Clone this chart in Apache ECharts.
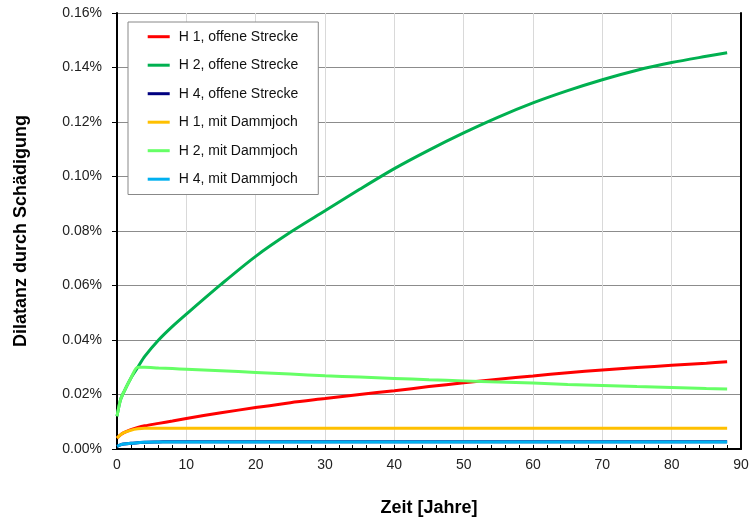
<!DOCTYPE html>
<html>
<head>
<meta charset="utf-8">
<script src="https://cdn.jsdelivr.net/npm/echarts@6/dist/echarts.min.js"></script>
<style>
  html, body { margin: 0; padding: 0; background: #fff; }
  #chart { width: 752px; height: 521px; }
</style>
</head>
<body>
<div id="chart"></div>
<script>
// Zeitpunkte in Jahren
var years = [0, 0.5, 1, 2, 3, 4, 6, 8, 10, 15, 20, 25, 30, 35, 40, 45, 50, 55, 60, 65, 70, 75, 80, 85, 88];

// Dilatanz in Prozent
var h1Offen = [0.0040, 0.0052, 0.0060, 0.0071, 0.0079, 0.0085, 0.0094, 0.0103, 0.0112, 0.0133, 0.0152, 0.0170, 0.0185, 0.0200, 0.0214, 0.0229, 0.0243, 0.0256, 0.0268, 0.0280, 0.0290, 0.0299, 0.0307, 0.0315, 0.0320];
var h2Offen = [0.0120, 0.0180, 0.0210, 0.0260, 0.0300, 0.0340, 0.0400, 0.0450, 0.0495, 0.0604, 0.0707, 0.0795, 0.0874, 0.0953, 0.1029, 0.1097, 0.1160, 0.1218, 0.1270, 0.1315, 0.1355, 0.1390, 0.1418, 0.1441, 0.1454];
var h4Offen = [0.0010, 0.0015, 0.0018, 0.0021, 0.0023, 0.0025, 0.0026, 0.0027, 0.0027, 0.0027, 0.0027, 0.0027, 0.0027, 0.0027, 0.0027, 0.0027, 0.0027, 0.0027, 0.0027, 0.0027, 0.0027, 0.0027, 0.0027, 0.0027, 0.0027];
var h1Damm = [0.0040, 0.0052, 0.0060, 0.0069, 0.0074, 0.0076, 0.0076, 0.0076, 0.0076, 0.0076, 0.0076, 0.0076, 0.0076, 0.0076, 0.0076, 0.0076, 0.0076, 0.0076, 0.0076, 0.0076, 0.0076, 0.0076, 0.0076, 0.0076, 0.0076];
var h2Damm = [0.0120, 0.0180, 0.0210, 0.0260, 0.0300, 0.0300, 0.0297, 0.0295, 0.0293, 0.0287, 0.0281, 0.0275, 0.0269, 0.0264, 0.0259, 0.0254, 0.0250, 0.0246, 0.0242, 0.0237, 0.0233, 0.0229, 0.0226, 0.0222, 0.0220];
var h4Damm = [0.0010, 0.0015, 0.0018, 0.0021, 0.0023, 0.0025, 0.0026, 0.0026, 0.0026, 0.0026, 0.0026, 0.0026, 0.0026, 0.0026, 0.0026, 0.0026, 0.0026, 0.0026, 0.0026, 0.0026, 0.0026, 0.0026, 0.0026, 0.0026, 0.0026];

var seriesNames = ['H 1, offene Strecke', 'H 2, offene Strecke', 'H 4, offene Strecke',
                   'H 1, mit Dammjoch', 'H 2, mit Dammjoch', 'H 4, mit Dammjoch'];
var seriesValues = [h1Offen, h2Offen, h4Offen, h1Damm, h2Damm, h4Damm];
var seriesColors = ['#ff0000', '#00b050', '#000080', '#ffc000', '#66ff66', '#00b0f0'];

var FONT = 'Liberation Sans, Arial, sans-serif';

function pairs(vals) {
  return years.map(function (t, i) { return [t, vals[i]]; });
}

var chart = echarts.init(document.getElementById('chart'), null, { renderer: 'canvas' });

chart.setOption({
  animation: false,
  backgroundColor: '#ffffff',
  textStyle: { fontFamily: FONT },
  grid: { left: 117, right: 11, top: 13, bottom: 72, containLabel: false, outerBoundsMode: 'none' },
  legend: {
    orient: 'vertical',
    left: 128,
    top: 22,
    icon: 'rect',
    itemWidth: 22,
    itemHeight: 3,
    itemGap: 12.5,
    padding: [6.7, 20, 7.3, 19.7],
    backgroundColor: '#ffffff',
    borderColor: '#888888',
    borderWidth: 1,
    borderRadius: 0,
    textStyle: { fontFamily: FONT, fontSize: 14, color: '#111', lineHeight: 16, padding: [0, 0, 0, 4] },
    data: seriesNames
  },
  xAxis: {
    type: 'value',
    min: 0,
    max: 90,
    interval: 10,
    name: 'Zeit [Jahre]',
    nameLocation: 'middle',
    nameGap: 50,
    nameTextStyle: { fontFamily: FONT, fontSize: 18, fontWeight: 'bold', color: '#000' },
    axisLine: { show: true, onZero: false, lineStyle: { color: '#000', width: 2 } },
    axisTick: { show: true, inside: true, length: 4, lineStyle: { color: '#000' } },
    minorTick: { show: true, splitNumber: 5, length: 4, lineStyle: { color: '#000' } },
    axisLabel: { fontFamily: FONT, fontSize: 14, color: '#222', margin: 9 },
    splitLine: { show: true, lineStyle: { color: '#d9d9d9', width: 1 } }
  },
  yAxis: [{
    type: 'value',
    min: 0,
    max: 0.16,
    interval: 0.02,
    name: 'Dilatanz durch Schädigung',
    nameLocation: 'middle',
    nameGap: 87,
    nameTextStyle: { fontFamily: FONT, fontSize: 18, fontWeight: 'bold', color: '#000' },
    axisLine: { show: true, lineStyle: { color: '#000', width: 2 } },
    axisTick: { show: true, inside: false, length: 5, lineStyle: { color: '#000' } },
    axisLabel: {
      fontFamily: FONT, fontSize: 14, color: '#222', margin: 15,
      formatter: function (v) { return v.toFixed(2) + '%'; }
    },
    splitLine: { show: true, lineStyle: { color: '#8c8c8c', width: 1 } }
  }, {
    type: 'value',
    position: 'right',
    min: 0,
    max: 0.16,
    interval: 0.02,
    axisLine: { show: true, lineStyle: { color: '#000', width: 2 } },
    axisTick: { show: false },
    axisLabel: { show: false },
    splitLine: { show: false }
  }],
  series: seriesNames.map(function (name, i) {
    return {
      name: name,
      type: 'line',
      yAxisIndex: 0,
      data: pairs(seriesValues[i]),
      showSymbol: false,
      symbol: 'none',
      smooth: 0.3,
      color: seriesColors[i],
      lineStyle: { color: seriesColors[i], width: 3 },
      itemStyle: { color: seriesColors[i] }
    };
  })
});
</script>
</body>
</html>
